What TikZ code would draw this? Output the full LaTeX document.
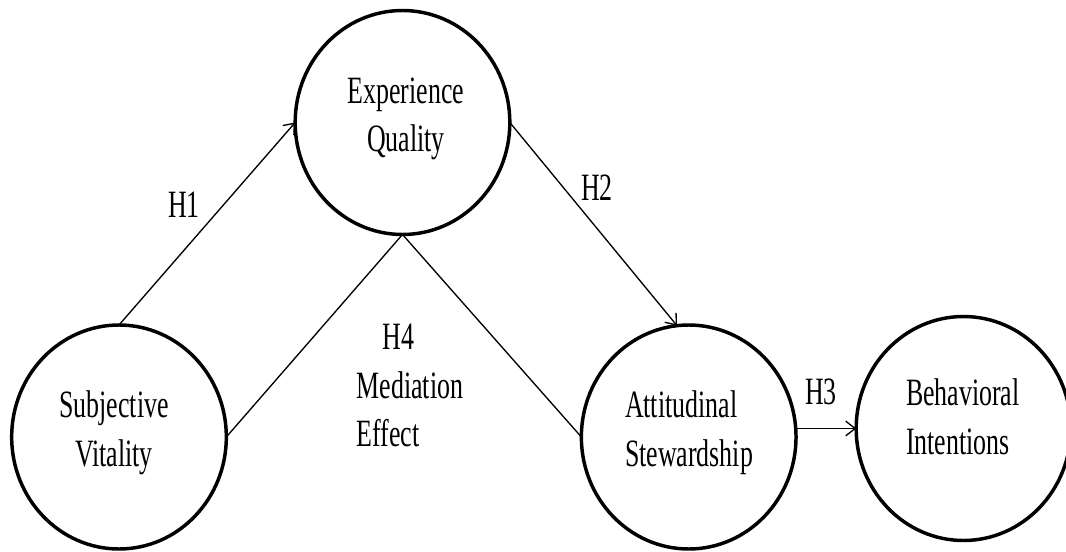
\documentclass[tikz,border=0pt]{standalone}
\usepackage{fontspec}
\setmainfont[FakeStretch=0.67]{Liberation Serif}
\usetikzlibrary{shapes.geometric,arrows.meta}
\begin{document}
\begin{tikzpicture}[x=0.75pt,y=-0.75pt,
  construct/.style={ellipse,draw,line width=2.6pt,minimum width=161pt,minimum height=168pt,inner sep=0pt,outer sep=0pt},
  txt/.style={inner sep=0pt,outer sep=0pt,font=\fontsize{29}{36.4}\selectfont},
  path/.style={line width=1pt},
  arr/.style={path,-{Straight Barb[length=7pt,width=11pt,line width=1pt]}}]
\useasboundingbox (0,0) rectangle (1066,552);
\node[construct] (eq) at (402.5,122.5) {};
\node[construct] (sv) at (119,437) {};
\node[construct] (as) at (688.7,437) {};
\node[construct] (bi) at (963.5,428.5) {};
\node[txt,align=center,anchor=base] (eqt) at (406,151.7) {Experience\\Quality};
\node[txt,align=center,anchor=base] (svt) at (114,466) {Subjective\\Vitality};
\node[txt,align=left,anchor=base west] (ast) at (625,466) {Attitudinal\\Stewardship};
\node[txt,align=left,anchor=base west] (bit) at (906,454) {Behavioral\\Intentions};
\draw[arr] (sv.north) -- (eq.west);
\draw[arr] (eq.east) -- (as.96);
\draw[arr] (as.east |- bi.west) -- (bi.west);
\draw[path] (sv.east) -- (eq.south) -- (as.west);
\node[txt] (h1) at (184,205) {H1};
\node[txt] (h2) at (597,188) {H2};
\node[txt] (h3) at (821,392) {H3};
\node[txt,align=left,anchor=base west] (h4) at (356.7,446.7) {\hspace*{19.5pt}H4\\Mediation\\Effect};
\end{tikzpicture}
\end{document}
